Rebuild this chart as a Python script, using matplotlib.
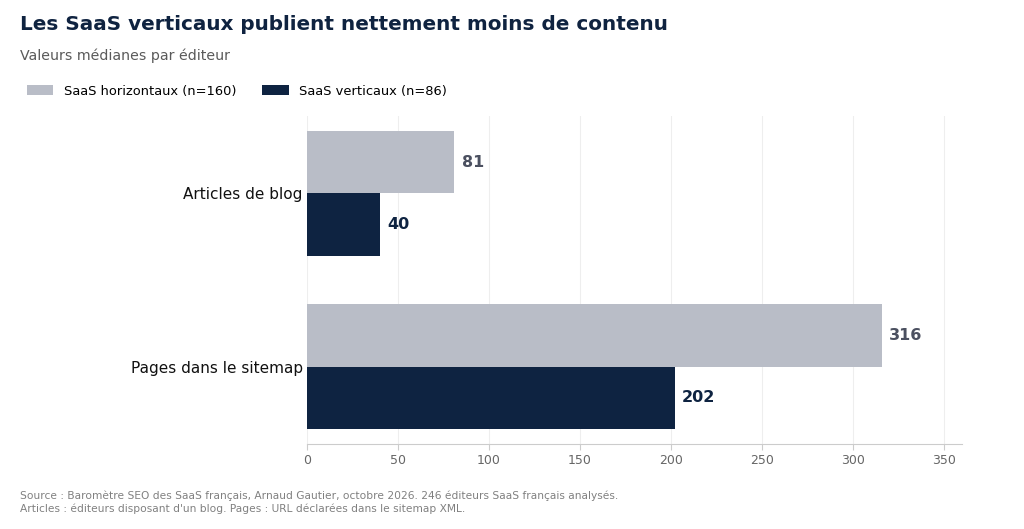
import matplotlib
matplotlib.use("Agg")
import matplotlib.pyplot as plt
import numpy as np

categories = ["Articles de blog", "Pages dans le sitemap"]
series_names = ["SaaS horizontaux (n=160)", "SaaS verticaux (n=86)"]
horizontaux = [81, 316]
verticaux = [40, 202]
xticks = [0, 50, 100, 150, 200, 250, 300, 350]

c_h = "#b9bdc7"
c_v = "#0e2341"
lbl_h = "#4b5060"
lbl_v = "#0e2341"

fig = plt.figure(figsize=(10.24, 5.29), dpi=100)
ax = fig.add_axes([307/1024, 1-444/529, (962-307)/1024, (444-116)/529])

y = np.arange(len(categories))
h = 0.36
b1 = ax.barh(y - h/2, horizontaux, height=h, color=c_h, label=series_names[0], zorder=3)
b2 = ax.barh(y + h/2, verticaux, height=h, color=c_v, label=series_names[1], zorder=3)

for bars, col in ((b1, lbl_h), (b2, lbl_v)):
    for r in bars:
        ax.text(r.get_width() + 4, r.get_y() + r.get_height()/2, f"{int(r.get_width())}",
                va="center", ha="left", fontsize=11.5, fontweight="bold", color=col)

ax.set_xlim(0, 360)
ax.set_ylim(1 + h + 0.087, -h - 0.087)
ax.set_yticks(y)
ax.set_yticklabels(categories, fontsize=11, color="#111111")
ax.set_xticks(xticks)
ax.tick_params(axis="x", colors="#666666", labelsize=9, length=4, color="#cccccc")
ax.tick_params(axis="y", length=0, pad=3)
for s in ("top", "right", "left"):
    ax.spines[s].set_visible(False)
ax.spines["bottom"].set_color("#cccccc")
ax.grid(axis="x", color="#eeeeee", linewidth=0.8, zorder=0)
ax.set_axisbelow(True)

fig.text(20/1024, 1-25/529, "Les SaaS verticaux publient nettement moins de contenu",
         fontsize=14.45, fontweight="bold", color="#0f2340", va="center", ha="left")
fig.text(20/1024, 1-56/529, "Valeurs médianes par éditeur",
         fontsize=10.2, color="#5a5a5a", va="center", ha="left")

fig.legend(handles=[b1, b2], labels=series_names, loc="center left",
           bbox_to_anchor=(26/1024, 1-91/529), ncol=2, frameon=False,
           fontsize=9.4, handlelength=2.0, handleheight=0.7, columnspacing=2.0,
           handletextpad=0.8, borderaxespad=0, borderpad=0.1)

fig.text(20/1024, 1-496/529,
         "Source : Baromètre SEO des SaaS français, Arnaud Gautier, octobre 2026. 246 éditeurs SaaS français analysés.",
         fontsize=7.7, color="#808080", va="center", ha="left")
fig.text(20/1024, 1-509/529,
         "Articles : éditeurs disposant d'un blog. Pages : URL déclarées dans le sitemap XML.",
         fontsize=7.7, color="#808080", va="center", ha="left")

fig.savefig("out.png", dpi=100, facecolor="white")
